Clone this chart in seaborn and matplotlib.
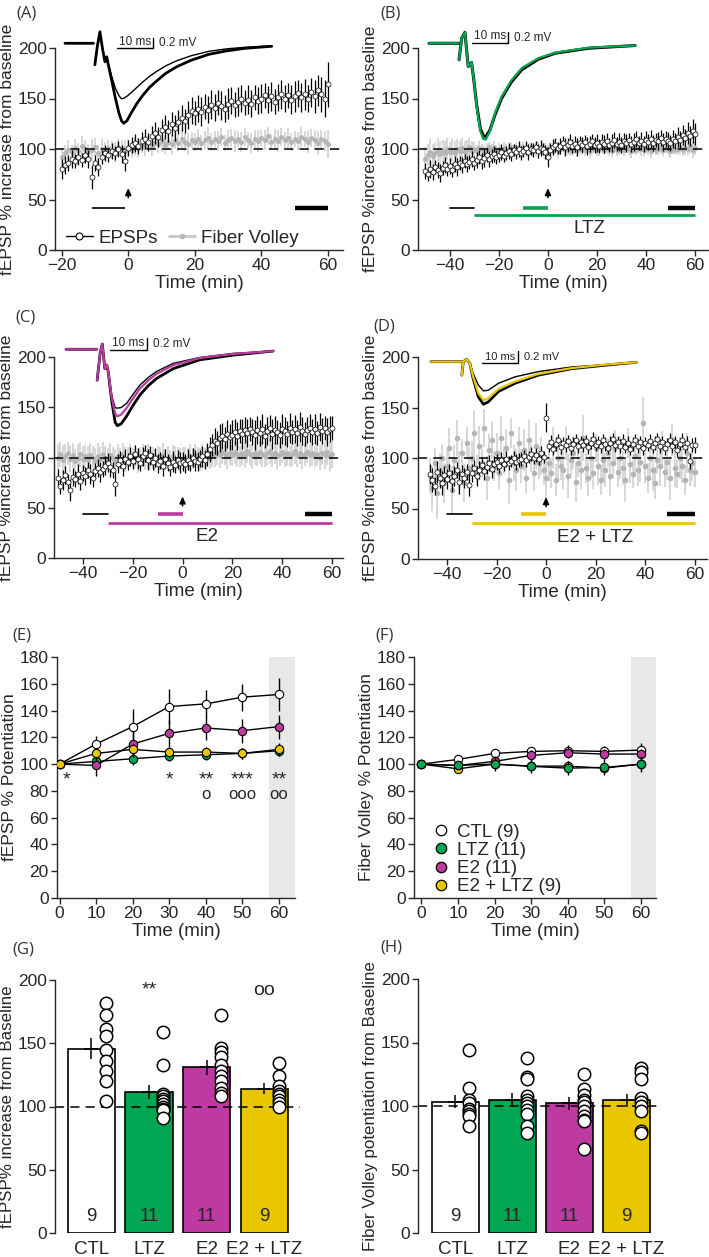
import numpy as np
import matplotlib
matplotlib.use("Agg")
import matplotlib.pyplot as plt
import seaborn as sns
from matplotlib.lines import Line2D

nan = float("nan")

# ------------------------------------------------------------------ data
# Panel A (CTL): per-minute fEPSP and fiber volley, -20..60 min
A_time = list(range(-20, 61))
A_epsp = [80, 84, 86, 90, 88, 92, 89, 94, 90, 72, 86, 82, 92, 96, 94, 98, 96, 100, 95, 88, 101,
          104, 106, 103, 108, 110, 107, 113, 116, 112, 119,
          122, 118, 125, 121, 127, 131, 128, 134, 138, 136,
          140, 137, 142, 139, 144, 141, 146, 143, 140, 145,
          148, 144, 147, 150, 146, 149, 145, 151, 148, 150,
          153, 149, 152, 147, 151, 154, 150, 153, 149, 152,
          155, 151, 154, 150, 156, 152, 158, 154, 150, 164]
A_epsp_err = [10, 9, 8, 9, 7, 8, 7, 8, 9, 12, 8, 9, 7, 8, 7, 8, 7, 8, 9, 10, 8,
              8, 9, 8, 9, 10, 9, 10, 11, 10, 11,
              12, 11, 12, 13, 12, 13, 12, 14, 13, 12,
              13, 14, 12, 13, 14, 13, 12, 14, 13, 15,
              13, 12, 14, 13, 12, 14, 13, 12, 13, 14,
              12, 13, 14, 12, 13, 14, 13, 12, 14, 15,
              13, 14, 15, 13, 14, 16, 15, 17, 18, 22]
A_fv = [92, 96, 99, 97, 101, 98, 103, 100, 97, 99, 102, 96, 100, 98, 101, 99, 97, 102, 100, 98, 101,
        99, 103, 101, 104, 102, 106, 103, 107, 105, 108,
        104, 107, 105, 109, 106, 110, 107, 105, 109, 107,
        110, 106, 109, 111, 107, 110, 108, 112, 106, 109,
        111, 108, 110, 107, 112, 109, 106, 110, 108, 111,
        109, 113, 107, 110, 108, 112, 109, 111, 107, 110,
        108, 112, 110, 107, 111, 109, 106, 110, 108, 105]
A_fv_err = [9, 8, 10, 7, 9, 8, 10, 9, 8, 11, 9, 8, 10, 9, 8, 9, 10, 8, 9, 11, 9,
            8, 9, 10, 8, 9, 7, 10, 8, 9, 11,
            9, 8, 10, 9, 8, 10, 9, 11, 8, 9,
            10, 8, 9, 11, 9, 8, 10, 9, 8, 10,
            9, 11, 8, 10, 9, 8, 10, 9, 11, 8,
            10, 9, 8, 10, 11, 9, 8, 10, 9, 8,
            9, 10, 8, 11, 9, 10, 12, 9, 10, 14]

# Panel B (LTZ): -50..60 min
B_time = list(range(-50, 61))
B_epsp = [78, 75, 80, 77, 82, 79, 76, 81, 84, 80,
          83, 79, 85, 82, 86, 84, 88, 85, 87, 90,
          86, 89, 92, 88, 91, 94, 90, 93, 95, 92,
          94, 97, 93, 96, 98, 95, 99, 97, 100, 96,
          98, 101, 97, 100, 99, 102, 98, 101, 100, 97,
          92,
          99, 102, 104, 101, 103, 106, 102, 104, 107, 103,
          105, 102, 106, 104, 107, 103, 105, 108, 104, 106,
          103, 107, 105, 108, 104, 106, 109, 105, 107, 104,
          108, 106, 109, 105, 107, 110, 106, 108, 105, 109,
          107, 110, 106, 109, 108, 111, 107, 110, 108, 106,
          110, 108, 112, 109, 114, 111, 116, 113, 118, 115]
B_epsp_err = [8, 7, 9, 8, 7, 8, 9, 7, 8, 7,
              8, 7, 8, 9, 7, 8, 7, 8, 7, 8,
              7, 8, 7, 8, 9, 7, 8, 7, 8, 7,
              7, 8, 6, 7, 8, 7, 6, 7, 8, 7,
              6, 7, 8, 6, 7, 6, 7, 8, 6, 7,
              10,
              7, 8, 7, 6, 8, 7, 9, 7, 8, 7,
              8, 9, 7, 8, 7, 9, 8, 7, 8, 9,
              7, 8, 9, 8, 7, 9, 8, 7, 9, 8,
              8, 9, 7, 8, 9, 8, 7, 9, 8, 9,
              8, 9, 8, 7, 9, 8, 9, 8, 9, 8,
              9, 8, 10, 9, 10, 9, 11, 10, 12, 11]
B_fv = [90, 94, 97, 93, 96, 99, 95, 98, 96, 100,
        97, 99, 96, 100, 98, 101, 97, 99, 102, 98,
        100, 98, 101, 99, 97, 100, 102, 99, 101, 98,
        100, 99, 101, 98, 100, 102, 99, 101, 100, 98,
        101, 99, 100, 102, 98, 100, 101, 99, 100, 101,
        98,
        100, 99, 101, 98, 100, 102, 99, 101, 100, 98,
        101, 99, 100, 102, 99, 101, 98, 100, 101, 99,
        100, 102, 99, 101, 100, 98, 101, 99, 100, 102,
        99, 101, 100, 98, 101, 99, 102, 100, 99, 101,
        100, 98, 101, 99, 100, 102, 99, 101, 100, 98,
        101, 99, 100, 102, 99, 101, 100, 103, 99, 101]
B_fv_err = [12, 11, 13, 12, 11, 12, 13, 11, 12, 11,
            10, 11, 12, 10, 11, 10, 11, 10, 9, 10,
            7, 6, 7, 6, 7, 6, 5, 6, 7, 6,
            6, 5, 6, 7, 6, 5, 6, 5, 6, 7,
            6, 5, 6, 5, 6, 7, 6, 5, 6, 5,
            6,
            6, 5, 6, 7, 6, 5, 6, 7, 6, 5,
            6, 7, 6, 5, 6, 6, 7, 6, 5, 6,
            7, 6, 5, 6, 7, 6, 5, 6, 6, 7,
            6, 5, 6, 7, 6, 5, 6, 7, 6, 5,
            6, 7, 6, 5, 6, 7, 6, 5, 6, 7,
            6, 5, 6, 7, 6, 7, 6, 7, 8, 7]

# Panel C (E2): -50..60 min
C_time = list(range(-50, 61))
C_epsp = [80, 72, 78, 83, 76, 68, 81, 79, 84, 77,
          85, 82, 88, 84, 80, 87, 90, 86, 89, 92,
          95, 91, 88, 74, 94, 98, 92, 99, 96, 101,
          97, 103, 99, 95, 101, 104, 98, 102, 96, 100,
          94, 97, 92, 99, 95, 91, 96, 93, 98, 95,
          96,
          94, 98, 95, 100, 97, 96, 99, 101, 98, 103,
          108, 112, 116, 114, 119, 121, 118, 123, 120, 122,
          125, 121, 126, 123, 127, 124, 128, 125, 122, 127,
          124, 128, 121, 126, 129, 123, 127, 125, 122, 128,
          126, 123, 129, 125, 128, 124, 130, 126, 123, 127,
          129, 125, 128, 124, 130, 126, 129, 125, 128, 129]
C_epsp_err = [9, 8, 10, 9, 8, 11, 9, 8, 10, 9,
              8, 9, 8, 10, 9, 8, 9, 10, 8, 9,
              9, 10, 8, 12, 9, 8, 10, 9, 8, 9,
              8, 9, 10, 8, 9, 8, 10, 9, 8, 9,
              9, 8, 10, 9, 8, 9, 10, 8, 9, 10,
              9,
              9, 10, 8, 9, 10, 9, 8, 10, 9, 11,
              12, 11, 13, 12, 14, 13, 12, 14, 13, 15,
              13, 14, 12, 15, 13, 14, 12, 13, 15, 14,
              13, 15, 12, 14, 13, 15, 14, 12, 13, 15,
              14, 13, 15, 12, 14, 13, 15, 14, 12, 13,
              14, 13, 15, 12, 14, 13, 12, 14, 13, 12]
C_fv = [100, 103, 98, 101, 104, 99, 102, 97, 100, 103,
        99, 101, 98, 102, 100, 97, 101, 99, 103, 100,
        98, 102, 100, 97, 101, 99, 103, 98, 100, 102,
        99, 101, 97, 100, 102, 98, 101, 99, 100, 97,
        101, 99, 102, 98, 100, 97, 101, 99, 100, 98,
        99,
        100, 98, 101, 99, 102, 100, 98, 101, 99, 102,
        100, 103, 101, 104, 102, 105, 103, 101, 104, 102,
        105, 103, 101, 104, 102, 106, 103, 101, 104, 102,
        105, 103, 101, 104, 106, 102, 104, 101, 103, 105,
        102, 104, 101, 103, 106, 102, 104, 101, 103, 105,
        102, 104, 101, 103, 100, 104, 102, 105, 101, 103]
C_fv_err = [13, 12, 14, 12, 11, 13, 12, 11, 13, 12,
            12, 11, 13, 12, 11, 12, 13, 11, 12, 11,
            11, 12, 10, 11, 12, 10, 11, 12, 10, 11,
            10, 11, 12, 10, 11, 10, 12, 11, 10, 11,
            10, 11, 12, 10, 11, 10, 11, 12, 10, 11,
            11,
            10, 11, 12, 10, 11, 10, 11, 12, 10, 11,
            11, 12, 10, 11, 12, 11, 10, 12, 11, 10,
            11, 12, 10, 11, 12, 11, 10, 12, 11, 10,
            11, 12, 10, 11, 12, 11, 10, 12, 11, 10,
            11, 12, 10, 11, 12, 11, 10, 12, 11, 10,
            11, 12, 10, 11, 12, 11, 13, 12, 14, 13]

# Panel D (E2 + LTZ): -47..60 min
D_time = list(range(-47, 61))
D_epsp = [84, 78, 72, 86, 80, 75, 83,
          79, 85, 77, 82, 88, 76, 84, 80, 86, 73,
          85, 90, 82, 88, 93, 87, 91, 95, 89, 94,
          96, 92, 98, 94, 99, 95, 97, 100, 96, 98,
          99, 102, 98, 101, 104, 100, 103, 99, 105, 101,
          140,
          112, 116, 109, 114, 118, 111, 115, 113, 117, 110,
          114, 118, 112, 116, 113, 117, 111, 115, 119, 113,
          116, 112, 118, 114, 110, 115, 119, 113, 116, 112,
          117, 111, 115, 109, 114, 118, 112, 116, 110, 115,
          113, 117, 111, 115, 119, 112, 116, 110, 114, 118,
          112, 116, 108, 114, 118, 111, 115, 97, 113, 113]
D_epsp_err = [10, 12, 9, 11, 10, 12, 9,
              10, 9, 11, 10, 8, 12, 9, 10, 8, 11,
              9, 8, 10, 9, 8, 9, 7, 8, 9, 8,
              8, 7, 8, 7, 8, 7, 6, 7, 8, 7,
              7, 6, 7, 6, 7, 6, 7, 6, 7, 6,
              14,
              6, 7, 6, 7, 6, 7, 6, 7, 6, 7,
              7, 6, 7, 6, 7, 6, 7, 6, 7, 6,
              6, 7, 6, 7, 6, 7, 6, 7, 6, 7,
              7, 6, 7, 6, 7, 6, 7, 6, 7, 6,
              6, 7, 6, 7, 6, 7, 6, 7, 6, 7,
              7, 6, 7, 6, 7, 6, 7, 8, 7, 8]
D_fv = [82, 70, 95, 65, 88, 100, 75,
        92, 110, 68, 98, 120, 85, 105, 75, 115, 90,
        100, 125, 88, 112, 95, 130, 80, 108, 118, 92,
        105, 85, 120, 98, 110, 78, 125, 95, 88, 115,
        92, 108, 80, 118, 100, 85, 112, 95, 102, 88,
        80,
        95, 85, 110, 78, 100, 92, 88, 115, 82, 98,
        105, 76, 95, 88, 120, 90, 80, 100, 85, 110,
        92, 78, 98, 88, 105, 82, 95, 110, 86, 100,
        90, 78, 115, 94, 84, 102, 88, 96, 135, 92,
        80, 100, 88, 75, 98, 92, 110, 86, 96, 80,
        118, 90, 84, 100, 92, 78, 105, 88, 95, 86]
D_fv_err = [18, 22, 15, 25, 17, 14, 20,
            16, 20, 24, 15, 18, 22, 14, 19, 16, 21,
            17, 23, 15, 20, 14, 19, 22, 16, 18, 15,
            20, 16, 22, 14, 19, 24, 15, 18, 21, 16,
            17, 21, 15, 20, 14, 18, 23, 16, 19, 15,
            22,
            18, 15, 21, 16, 20, 14, 19, 17, 22, 15,
            16, 20, 14, 19, 23, 15, 18, 21, 16, 14,
            19, 15, 22, 17, 14, 20, 16, 18, 15, 21,
            17, 22, 15, 19, 14, 18, 16, 20, 25, 17,
            15, 19, 21, 16, 14, 20, 17, 15, 18, 22,
            16, 19, 14, 21, 17, 15, 20, 16, 18, 15]

# Drug / analysis periods (min) and their levels
A_periods = [(-11, -1, 42), (50, 60, 42)]
BCD_short = [(-40, -30), (-10, 0), (49, 60), (-30, 60)]

# Inset EPSP traces (ms, mV)
A_tr_t = [0, 7.9, nan, 8.3, 9.0, 9.7, 10.4, 11.1, 11.6, 12.0, 13.0, 14.0, 15.0, 15.7, 16.3, 17.2,
          18.5, 20.0, 21.5, 23.5, 25.5, 28.0, 31.0, 35.0, 40.0, 45.0, 50.0, 57.4]
A_tr_pre = [0, 0, nan, -0.43, -0.05, 0.23, -0.1, -0.37, -0.27, -0.4, -0.67, -0.9, -1.05, -1.11, -1.1,
            -1.06, -0.98, -0.88, -0.78, -0.66, -0.56, -0.45, -0.35, -0.25, -0.16, -0.11, -0.08, -0.05]
A_tr_post = [0, 0, nan, -0.43, -0.05, 0.23, -0.1, -0.37, -0.27, -0.42, -0.75, -1.1, -1.4, -1.55, -1.6,
             -1.55, -1.38, -1.2, -1.05, -0.88, -0.75, -0.6, -0.47, -0.34, -0.22, -0.15, -0.1, -0.06]

B_tr_t = [0, 8.0, nan, 8.2, 8.9, 9.8, 10.7, 11.2, 11.6, 12.1, 13.0, 14.0, 14.8, 15.5, 16.6, 18.0,
          19.8, 22.5, 25.3, 29.8, 34.4, 43.5, 56.2]
B_tr_ctl = [0, 0, nan, -0.3, 0.09, 0.2, -0.42, -0.39, -0.35, -0.6, -1.12, -1.55, -1.68, -1.7, -1.58,
            -1.3, -1.0, -0.7, -0.48, -0.29, -0.18, -0.09, -0.04]
B_tr_drug = [0, 0, nan, -0.3, 0.09, 0.2, -0.42, -0.39, -0.35, -0.6, -1.15, -1.6, -1.74, -1.75, -1.6,
             -1.27, -0.97, -0.67, -0.45, -0.27, -0.17, -0.08, -0.04]

C_tr_t = [0, 8.4, nan, 8.5, 9.3, 9.9, 10.6, 11.1, 11.5, 12.5, 13.4, 14.0, 15.0, 16.5, 18.2, 20.2,
          22.5, 24.7, 29.3, 36.5, 45.6, 56.5]
C_tr_pre = [0, 0, nan, -0.53, -0.07, 0.09, -0.33, -0.27, -0.38, -0.8, -1.0, -1.01, -1.0, -0.93, -0.78,
            -0.61, -0.48, -0.38, -0.24, -0.14, -0.07, -0.03]
C_tr_drug = [0, 0, nan, -0.53, -0.07, 0.09, -0.33, -0.27, -0.38, -0.84, -1.1, -1.15, -1.12, -1.01, -0.85,
             -0.67, -0.53, -0.42, -0.27, -0.15, -0.08, -0.03]
C_tr_post = [0, 0, nan, -0.53, -0.07, 0.09, -0.33, -0.27, -0.38, -0.9, -1.25, -1.31, -1.28, -1.15, -0.97,
             -0.78, -0.62, -0.5, -0.33, -0.18, -0.1, -0.03]

D_tr_t = [0, 8.2, nan, 8.4, 8.8, 9.7, 10.6, 11.5, 12.9, 14.3, 15.6, 18.4, 22.9, 29.3, 38.4, 47.5, 56.0]
D_tr_pre = [0, 0, nan, -0.23, 0, 0.04, -0.03, -0.2, -0.4, -0.5, -0.49, -0.37, -0.26, -0.17, -0.09, -0.05, -0.01]
D_tr_drug = [0, 0, nan, -0.23, 0, 0.04, -0.03, -0.26, -0.54, -0.66, -0.63, -0.47, -0.34, -0.21, -0.11, -0.05, -0.01]
D_tr_post = [0, 0, nan, -0.23, 0, 0.04, -0.03, -0.29, -0.6, -0.73, -0.69, -0.51, -0.37, -0.23, -0.12, -0.06, -0.01]

# Panels E / F: summary time course
groups = ["CTL", "LTZ", "E2", "E2 + LTZ"]
group_n = [9, 11, 11, 9]
EF_time = [0, 10, 20, 30, 40, 50, 60]
E_ctl = [100, 115, 128, 143, 145, 150, 152]
E_ctl_err = [0, 6, 13, 13, 10, 10, 12]
E_ltz = [100, 102, 104, 106, 107, 108, 110]
E_ltz_err = [0, 4, 5, 4, 4, 4, 4]
E_e2 = [100, 99, 115, 123, 127, 125, 128]
E_e2_err = [0, 8, 10, 10, 9, 9, 9]
E_e2ltz = [100, 108, 111, 109, 109, 108, 111]
E_e2ltz_err = [0, 4, 4, 4, 4, 4, 5]
E_stars = ["*", "", "", "*", "**", "***", "**"]
E_circles = ["", "", "", "", "o", "ooo", "oo"]

F_ctl = [100, 103.5, 108, 109.5, 110, 109.5, 110.5]
F_ctl_err = [3, 3, 3, 3, 4, 4, 5]
F_ltz = [100, 99, 100, 98.3, 97, 97.5, 100]
F_ltz_err = [3, 3, 5, 5, 5, 6, 6]
F_e2 = [100, 99, 102, 106.5, 108.5, 107.5, 107.5]
F_e2_err = [3, 3, 4, 4, 4, 4, 4]
F_e2ltz = [100, 96.5, 100, 98.5, 98.5, 97, 100]
F_e2ltz_err = [3, 3, 4, 4, 4, 4, 4]

# Panels G / H: bar means, SEM and individual slices
G_mean = [145.5, 111.3, 131.0, 114.0]
G_sem = [8.3, 5.5, 6.0, 4.5]
G_ctl = [182, 172, 161, 156, 145, 136, 128, 120, 104]
G_ltz = [159, 133, 110, 108, 106, 104, 102, 100, 98, 97, 91]
G_e2 = [172, 146, 143, 139, 133, 128, 124, 120, 115, 111, 108]
G_e2ltz = [134, 124, 116, 112, 110, 108, 105, 103, 100]
G_marks = ["", "**", "", "oo"]

H_mean = [103.5, 105.0, 102.0, 104.6]
H_sem = [5.2, 5.0, 5.0, 5.0]
H_ctl = [144, 114, 105, 102, 98, 96, 94, 92, 84]
H_ltz = [138, 123, 121, 108, 105, 102, 100, 97, 94, 84, 79]
H_e2 = [125, 113, 109, 105, 103, 100, 96, 92, 89, 88, 66]
H_e2ltz = [130, 127, 121, 106, 103, 100, 96, 80, 79]

# ------------------------------------------------------------------ style
GREEN = "#00a651"
MAGENTA = "#bd3aa0"
YELLOW = "#e8c600"
FV_PT = "#b5b5b5"
FV_ERR = "#cdcdcd"
BAND = "#e8e8e8"
group_colors = ["white", GREEN, MAGENTA, YELLOW]

sns.set_style("ticks")
plt.rcParams["font.family"] = ["Liberation Sans", "DejaVu Sans"]
plt.rcParams["axes.linewidth"] = 1.0
plt.rcParams["xtick.major.width"] = 1.0
plt.rcParams["ytick.major.width"] = 1.0
plt.rcParams["xtick.major.size"] = 4
plt.rcParams["ytick.major.size"] = 4

TICK_FS = 12.5
LAB_FS = 13.5

W, H = 709, 1257
fig = plt.figure(figsize=(W / 100, H / 100), dpi=100)


def add_ax(l, t, r, b):
    return fig.add_axes([l / W, 1 - b / H, (r - l) / W, (b - t) / H])


def panel_label(x, y, s):
    fig.text(x / W, 1 - y / H, s, fontsize=12, family=["Open Sans", "DejaVu Sans"],
             ha="left", va="center", color="#333333")


def time_course(ax, t, ep, ep_err, fv, fv_err, xlim, xticks, ylabel, fv_ms=2.6):
    ax.errorbar(t, fv, yerr=fv_err, fmt="o", ms=fv_ms, mfc=FV_PT, mec=FV_PT,
                ecolor=FV_ERR, elinewidth=1.1, zorder=2)
    ax.axhline(100, ls=(0, (6, 4)), color="black", lw=1.1, zorder=2.5)
    ax.errorbar(t, ep, yerr=ep_err, fmt="o", ms=3.6, mfc="white", mec="black", mew=0.5,
                ecolor="black", elinewidth=0.9, zorder=3)
    ax.set_xlim(*xlim)
    ax.set_ylim(0, 200)
    ax.set_xticks(xticks)
    ax.set_yticks([0, 50, 100, 150, 200])
    ax.tick_params(labelsize=TICK_FS, pad=2)
    ax.set_xlabel("Time (min)", fontsize=LAB_FS, labelpad=1)
    ax.set_ylabel(ylabel, fontsize=12.5, labelpad=2)
    sns.despine(ax=ax)
    ax.annotate("", xy=(0, 64), xytext=(0, 49),
                arrowprops=dict(arrowstyle="-|>,head_width=0.18,head_length=0.4", color="black", lw=1.1))


def drug_bars(ax, color, text, text_x, y_short, y_long):
    (a1, a2), (b1, b2), (c1, c2), (d1, d2) = BCD_short
    ax.plot([a1, a2], [y_short, y_short], color="black", lw=1.2)
    ax.plot([b1, b2], [y_short, y_short], color=color, lw=2.6, solid_capstyle="butt")
    ax.plot([c1, c2], [y_short, y_short], color="black", lw=3.2, solid_capstyle="butt")
    ax.plot([d1, d2], [y_long, y_long], color=color, lw=2.0, solid_capstyle="butt")
    ax.text(text_x, 21, text, ha="center", va="center", fontsize=LAB_FS)


def inset(l, t, r, b, x0, y0, pms, pmv):
    ax = add_ax(l, t, r, b)
    ax.set_xlim((l - x0) / pms, (r - x0) / pms)
    ax.set_ylim(-(b - y0) / pmv, (y0 - t) / pmv)
    ax.axis("off")
    ax.patch.set_alpha(0)
    return ax


def scalebar(ax, x1, x2, y, fs=8.5):
    ax.plot([x1, x2, x2], [y, y, y + 0.2], color="black", lw=1.0)
    ax.text((x1 + x2) / 2, y + 0.015, "10 ms", ha="center", va="bottom", fontsize=fs)
    ax.text(x2 + 1.6, y + 0.1, "0.2 mV", ha="left", va="center", fontsize=fs)


# ------------------------------------------------------------------ Panel A
axA = add_ax(55, 48, 343, 250)
time_course(axA, A_time, A_epsp, A_epsp_err, A_fv, A_fv_err, (-22, 64.5),
            [-20, 0, 20, 40, 60], "fEPSP % increase from baseline")
for x1, x2, lev in A_periods:
    lw = 1.2 if x2 <= 0 else 3.2
    axA.plot([x1, x2], [lev, lev], color="black", lw=lw, solid_capstyle="butt")
hA = [Line2D([0], [0], color="black", lw=1.0, marker="o", ms=5, mfc="white", mec="black", mew=0.8),
      Line2D([0], [0], color="#c8c8c8", lw=2.0, marker="o", ms=3, mfc=FV_PT, mec=FV_PT)]
axA.legend(hA, ["EPSPs", "Fiber Volley"], loc="lower left", bbox_to_anchor=(0.0, -0.04),
           ncol=2, frameon=False, fontsize=LAB_FS, handlelength=1.4, handletextpad=0.3,
           columnspacing=0.6, borderaxespad=0.2)
iA = inset(60, 20, 285, 130, 65, 43.3, 3.6, 50)
iA.plot(A_tr_t, A_tr_pre, color="black", lw=1.0)
iA.plot(A_tr_t, A_tr_post, color="black", lw=2.0)
scalebar(iA, 14.5, 24.5, -0.1)
panel_label(16, 14, "(A)")

# ------------------------------------------------------------------ Panel B
axB = add_ax(418, 48, 708, 250)
time_course(axB, B_time, B_epsp, B_epsp_err, B_fv, B_fv_err, (-53, 65.3),
            [-40, -20, 0, 20, 40, 60], "fEPSP %increase from baseline")
drug_bars(axB, GREEN, "LTZ", 17, 42, 34.5)
iB = inset(425, 20, 650, 150, 429, 43.3, 3.667, 55)
iB.plot(B_tr_t, B_tr_ctl, color="black", lw=2.2)
iB.plot(B_tr_t, B_tr_drug, color=GREEN, lw=1.6)
scalebar(iB, 11.6, 21.6, 0.0)
panel_label(380, 14, "(B)")

# ------------------------------------------------------------------ Panel C
axC = add_ax(54, 357, 343, 558)
time_course(axC, C_time, C_epsp, C_epsp_err, C_fv, C_fv_err, (-51.6, 64.4),
            [-40, -20, 0, 20, 40, 60], "fEPSP %increase from baseline")
drug_bars(axC, MAGENTA, "E2", 10, 44, 35)
iC = inset(60, 330, 285, 440, 66, 349.3, 3.667, 58.3)
iC.plot(C_tr_t, C_tr_pre, color="black", lw=1.0)
iC.plot(C_tr_t, C_tr_post, color="black", lw=2.0)
iC.plot(C_tr_t, C_tr_drug, color=MAGENTA, lw=1.6)
scalebar(iC, 12, 22, -0.01)
panel_label(15, 318, "(C)")

# ------------------------------------------------------------------ Panel D
axD = add_ax(418, 357, 707, 559)
time_course(axD, D_time, D_epsp, D_epsp_err, D_fv, D_fv_err, (-51.7, 65),
            [-40, -20, 0, 20, 40, 60], "fEPSP %increase from baseline", fv_ms=3.0)
drug_bars(axD, YELLOW, "E2 + LTZ", 20, 45, 36)
iD = inset(425, 340, 650, 420, 431, 361.7, 3.667, 58.3)
iD.plot(D_tr_t, D_tr_pre, color="black", lw=1.0)
iD.plot(D_tr_t, D_tr_post, color="black", lw=2.0)
iD.plot(D_tr_t, D_tr_drug, color=YELLOW, lw=1.6)
scalebar(iD, 13.8, 23.8, -0.017, fs=8)
panel_label(373, 326, "(D)")


# ------------------------------------------------------------------ Panels E / F
def summary(ax, series, order, xlim, ylabel):
    ax.axvspan(57.3, xlim[1], color=BAND, lw=0, zorder=0)
    z = 2
    for k in order:
        vals, err, col = series[k]
        ax.errorbar(EF_time, vals, yerr=err, fmt="none", ecolor="black", elinewidth=1.0, zorder=z)
        sns.lineplot(x=EF_time, y=vals, ax=ax, color="black", lw=1.0, marker="o", markersize=6,
                     markerfacecolor=col, markeredgecolor="black", markeredgewidth=0.8,
                     legend=False, zorder=z + 0.5)
        z += 1
    ax.set_xlim(*xlim)
    ax.set_ylim(0, 180)
    ax.set_xticks(EF_time)
    ax.set_yticks(range(0, 181, 20))
    ax.tick_params(labelsize=TICK_FS, pad=2)
    ax.set_xlabel("Time (min)", fontsize=LAB_FS, labelpad=1)
    ax.set_ylabel(ylabel, fontsize=12.5, labelpad=2)
    sns.despine(ax=ax)


axE = add_ax(57, 657, 295, 898)
E_series = [(E_ctl, E_ctl_err, "white"), (E_ltz, E_ltz_err, GREEN),
            (E_e2, E_e2_err, MAGENTA), (E_e2ltz, E_e2ltz_err, YELLOW)]
summary(axE, E_series, [0, 1, 2, 3], (-0.7, 64.4), "fEPSP % Potentiation")
for tt, st, ci in zip(EF_time, E_stars, E_circles):
    xs = tt + 2 if tt == 0 else tt
    if st:
        axE.text(xs, 88, st, ha="center", va="center", fontsize=14)
    if ci:
        axE.text(xs, 77.5, ci, ha="center", va="center", fontsize=12)
panel_label(12, 635, "(E)")

axF = add_ax(414, 657, 656, 898)
F_series = [(F_ctl, F_ctl_err, "white"), (F_ltz, F_ltz_err, GREEN),
            (F_e2, F_e2_err, MAGENTA), (F_e2ltz, F_e2ltz_err, YELLOW)]
summary(axF, F_series, [0, 3, 2, 1], (-2.0, 64.1), "Fiber Volley % Potentiation")
hF = [Line2D([0], [0], ls="none", marker="o", ms=7.5, mfc=c, mec="black", mew=0.9) for c in group_colors]
axF.legend(hF, [f"{g} ({n})" for g, n in zip(groups, group_n)], loc="lower left",
           bbox_to_anchor=(0.03, -0.035), frameon=False, fontsize=LAB_FS, handlelength=0.9,
           handletextpad=0.4, labelspacing=0.05, borderaxespad=0.2)
panel_label(375, 635, "(F)")


# ------------------------------------------------------------------ Panels G / H
def bars(ax, means, sems, dots, marks, xlim, ylabel, ylabel_fs):
    cats = groups
    sns.barplot(x=cats, y=means, hue=cats, palette=dict(zip(cats, group_colors)),
                width=0.82, saturation=1, edgecolor="black", linewidth=1.2, ax=ax,
                legend=False, zorder=1)
    ax.axhline(100, ls=(0, (6, 4)), color="black", lw=1.1, zorder=2)
    ax.errorbar(range(len(cats)), means, yerr=sems, fmt="none", ecolor="black",
                elinewidth=1.1, zorder=3)
    ax.scatter(range(len(cats)), means, marker="_", s=90, color="black", lw=1.1, zorder=3)
    for i, vals in enumerate(dots):
        sns.scatterplot(x=[i + 0.25] * len(vals), y=vals, ax=ax, s=80, color="white",
                        edgecolor="black", linewidth=1.1, zorder=4, legend=False)
        ax.text(i, 13, str(group_n[i]), ha="center", va="center", fontsize=LAB_FS, zorder=5)
        if marks[i]:
            ax.text(i, 192, marks[i], ha="center", va="center", fontsize=14)
    ax.set_xlim(*xlim)
    ax.set_ylim(0, 200)
    ax.set_yticks([0, 50, 100, 150, 200])
    ax.tick_params(axis="y", labelsize=TICK_FS, pad=2)
    ax.tick_params(axis="x", length=0, labelsize=LAB_FS, pad=6)
    ax.set_ylabel(ylabel, fontsize=ylabel_fs, labelpad=2)
    sns.despine(ax=ax, bottom=True)


axG = add_ax(55, 980, 300, 1233)
bars(axG, G_mean, G_sem, [G_ctl, G_ltz, G_e2, G_e2ltz], G_marks, (-0.63, 3.62),
     "fEPSP% increase from Baseline", 12.2)
panel_label(12, 950, "(G)")

axH = add_ax(418, 979, 662, 1233)
bars(axH, H_mean, H_sem, [H_ctl, H_ltz, H_e2, H_e2ltz], ["", "", "", ""], (-0.65, 3.62),
     "Fiber Volley potentiation from Baseline", 12.2)
panel_label(380, 948, "(H)")

fig.savefig("out.png", dpi=100)
